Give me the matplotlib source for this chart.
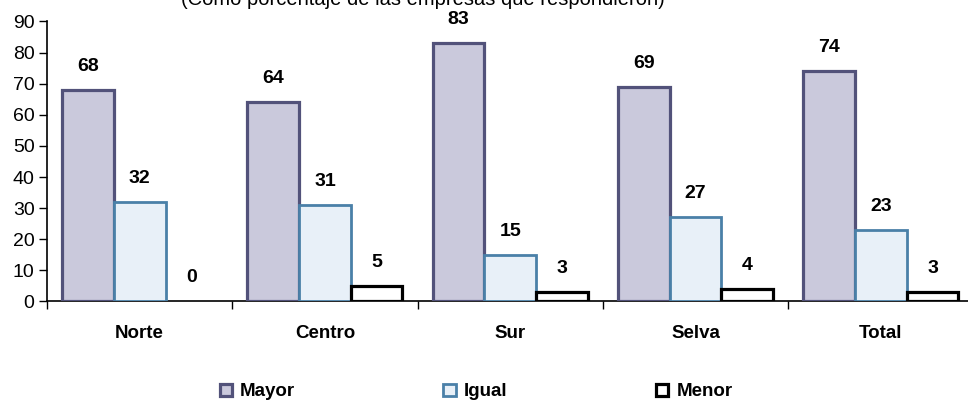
import matplotlib.pyplot as plt
import numpy as np

plt.rcParams['font.family'] = ['Liberation Sans', 'DejaVu Sans']

# Data
regiones = ['Norte', 'Centro', 'Sur', 'Selva', 'Total']
mayor = [68, 64, 83, 69, 74]
igual = [32, 31, 15, 27, 23]
menor = [0, 5, 3, 4, 3]
titulo = '(Como porcentaje de las empresas que respondieron)'


def plot_empresas():
    fig = plt.figure(figsize=(9.68, 4.03), dpi=100)
    ax = fig.add_axes([0.0486, 0.2519, 0.957, 0.6948])

    x = np.arange(len(regiones))
    w = 0.279

    series = [
        (mayor, 'Mayor', '#cac9dc', '#52527a', 2.3),
        (igual, 'Igual', '#e8f0f8', '#4a80a8', 2.0),
        (menor, 'Menor', '#ffffff', '#000000', 2.3),
    ]

    for k, (vals, name, fc, ec, lw) in enumerate(series):
        pos = x + (k - 1) * w
        heights = [v if v > 0 else np.nan for v in vals]
        ax.bar(pos, heights, width=w, color=fc, edgecolor=ec, linewidth=lw,
               label=name, zorder=3)
        for p, v in zip(pos, vals):
            ax.annotate(str(v), (p, v), xytext=(0, 17), textcoords='offset points',
                        ha='center', va='center', fontsize=14, fontweight='bold')

    ax.set_xlim(-0.5, 4.5)
    ax.set_ylim(0, 90)
    ax.set_yticks(range(0, 91, 10))
    ax.tick_params(axis='y', labelsize=14, length=6, width=1, direction='out', pad=3)

    # ticks between categories, labels centered
    ax.set_xticks(np.arange(-0.5, 4.6, 1.0))
    ax.set_xticklabels([])
    ax.set_xticks(x, minor=True)
    ax.set_xticklabels(regiones, minor=True, fontsize=13.5, fontweight='bold')
    ax.tick_params(axis='x', which='major', length=6, width=1)
    ax.tick_params(axis='x', which='minor', length=0, pad=17)

    for s in ['top', 'right']:
        ax.spines[s].set_visible(False)
    ax.spines['left'].set_linewidth(1.2)
    ax.spines['bottom'].set_linewidth(1.2)

    fig.text(423 / 968, 398 / 403, titulo, ha='center', va='baseline', fontsize=14.5)

    fig.legend(loc='center', bbox_to_anchor=(476 / 968, 1 - 392 / 403), ncol=3,
               frameon=False, prop={'weight': 'bold', 'size': 13.5},
               handlelength=0.65, handleheight=0.65, handletextpad=0.45,
               columnspacing=7.9)

    fig.savefig('out.png', dpi=100)


if __name__ == '__main__':
    plot_empresas()
